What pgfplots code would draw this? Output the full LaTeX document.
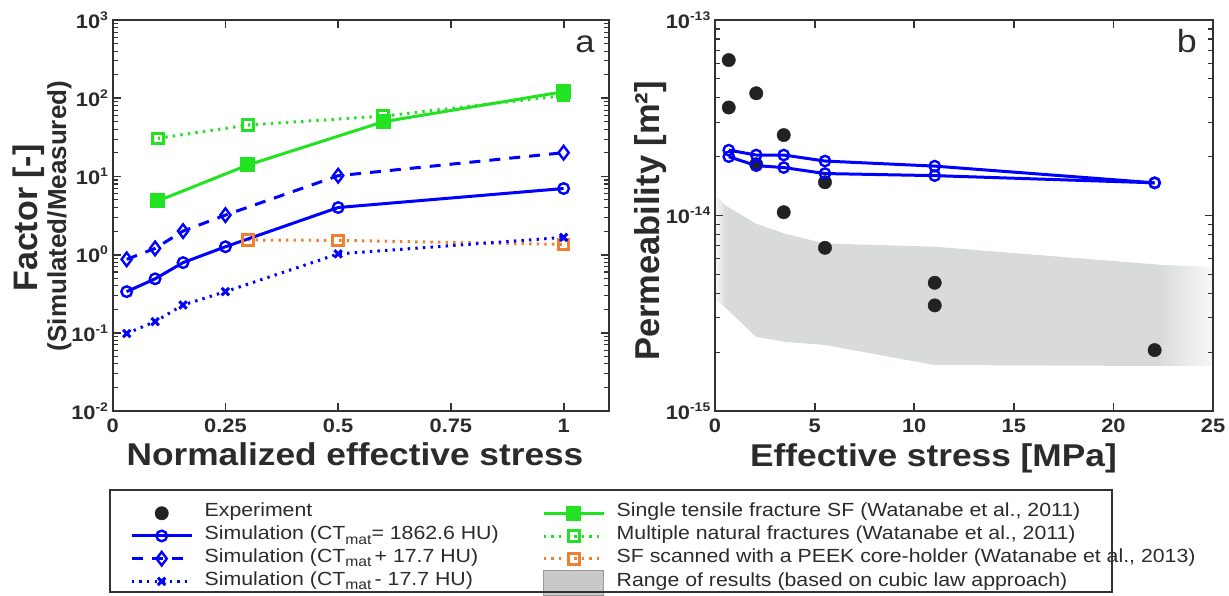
\documentclass[border=0pt]{standalone}
\usepackage{fontspec}
\setmainfont{Liberation Sans}[FakeStretch=1.12]
\newfontfamily\rotf{Liberation Sans}
\usepackage{pgfplots}
\pgfplotsset{compat=1.18}
\definecolor{axgray}{HTML}{333333}
\definecolor{txt}{HTML}{2B2B2B}
\definecolor{simblue}{HTML}{0000FF}
\definecolor{sfgreen}{HTML}{22E222}
\definecolor{peek}{HTML}{F08030}
\definecolor{expdot}{HTML}{222222}
\definecolor{band}{HTML}{D9DBDB}
\definecolor{bandlight}{HTML}{F8F8F8}
\definecolor{legbox}{HTML}{C8C8C8}
\definecolor{legedge}{HTML}{9A9A9A}

\newcommand\tickf{\fontsize{19.5}{20}\selectfont\bfseries}
\newcommand\labf{\fontsize{31.5}{34}\selectfont\bfseries}
\newcommand\legf{\fontsize{19}{21}\selectfont}
\newcommand\sub[1]{\raisebox{-4.5pt}{\fontsize{14}{14}\selectfont #1}}
\newcommand\pw[1]{10\raisebox{8pt}{\fontsize{12.5}{12.5}\selectfont #1}}

\pgfplotsset{
 panel/.style={scale only axis, height=391pt, anchor=south west,
  axis on top,
  axis line style={line width=2.4pt, axgray},
  every tick/.append style={axgray, line width=1.8pt},
  minor tick style={line width=1.1pt},
  major tick length=8pt, minor tick length=5pt,
  tick align=inside, tick pos=both,
  ticklabel style={font=\tickf, text=txt},
  xticklabel style={inner sep=0pt, anchor=north, yshift=-8pt},
  yticklabel style={inner sep=0pt, anchor=east, xshift=-4.5pt},
  legend cell align=left,
  legend style={draw=none, fill=none, inner sep=0pt, row sep=0pt,
   column sep=0pt, font=\legf, text=txt,
   nodes={inner sep=0pt, text height=15pt, text depth=7.7pt}}},
 limg/.style={legend image code/.code={
   \draw[mark repeat=2,mark phase=2,##1] plot coordinates {(0pt,0pt) (30pt,0pt) (60pt,0pt)};
   \path[draw=none, fill=none] (0pt,0pt) rectangle (73pt,0.1pt);}},
 aimg/.style={legend image code/.code={
   \draw[##1] (0pt,-12.5pt) rectangle (60pt,12.5pt);
   \path[draw=none, fill=none] (0pt,0pt) rectangle (73pt,0.1pt);}},
 dots/.style={dash pattern=on 2.4pt off 5.2pt},
 simsolid/.style={simblue, line width=3pt, mark=o, mark size=5.3pt,
  mark options={solid, line width=2.4pt, fill=white}},
 simdash/.style={simblue, line width=3pt, dash pattern=on 11pt off 9pt,
  mark=diamond, mark size=6.8pt, mark options={solid, line width=2.4pt, fill=white}},
 simdot/.style={simblue, line width=3pt, dots,
  mark=x, mark size=5.2pt, mark options={solid, line width=3pt}},
 sfsolid/.style={sfgreen, line width=3pt, mark=square*, mark size=6pt,
  mark options={solid}},
 mnfdot/.style={sfgreen, line width=3pt, dots,
  mark=square, mark size=5.3pt, mark options={solid, line width=3pt, fill=white}},
 peekdot/.style={peek, line width=3pt, dots,
  mark=square, mark size=5.3pt, mark options={solid, line width=3pt, fill=white}},
 expst/.style={only marks, mark=*, mark size=6.7pt, expdot},
 permb/.style={simblue, line width=3pt, mark=o, mark size=5.2pt,
  mark options={line width=2.4pt, fill=white}},
}

\begin{document}
\begin{tikzpicture}
\path[use as bounding box] (0,0) rectangle (1229pt,595pt);

% panel a
\begin{axis}[panel, at={(112.7pt,184pt)}, width=496pt,
 xmin=0, xmax=1.1, xtick={0,0.25,0.5,0.75,1},
 xticklabels={0,0.25,0.5,0.75,1},
 ymode=log, ymin=1e-2, ymax=1e3,
 ytick={1e-2,1e-1,1,1e1,1e2,1e3},
 yticklabels={\pw{-2},\pw{-1},\pw{0},\pw{1},\pw{2},\pw{3}},
 minor ytick={0.02,0.03,0.04,0.05,0.06,0.07,0.08,0.09,
  0.2,0.3,0.4,0.5,0.6,0.7,0.8,0.9,2,3,4,5,6,7,8,9,
  20,30,40,50,60,70,80,90,200,300,400,500,600,700,800,900},
 legend style={at={(0.0349,-0.232)}, anchor=north west}]
\addlegendimage{expst, limg}\addlegendentry{Experiment}
\addlegendimage{simsolid, limg}\addlegendentry{Simulation (CT\sub{mat}= 1862.6 HU)}
\addlegendimage{simdash, limg}\addlegendentry{Simulation (CT\sub{mat}\,+ 17.7 HU)}
\addlegendimage{simdot, limg}\addlegendentry{Simulation (CT\sub{mat}\,- 17.7 HU)}

\addplot[peekdot, forget plot] coordinates {(0.3,1.54) (0.5,1.52) (1,1.35)};
\addplot[simdot, forget plot] coordinates {(0.031,0.098) (0.094,0.139) (0.156,0.227) (0.25,0.336) (0.5,1.02) (1,1.66)};
\addplot[simdash, forget plot] coordinates {(0.031,0.87) (0.094,1.2) (0.156,2.0) (0.25,3.2) (0.5,10.2) (1,20.1)};
\addplot[simsolid, forget plot] coordinates {(0.031,0.336) (0.094,0.49) (0.156,0.79) (0.25,1.26) (0.5,4.0) (1,7.0)};
\addplot[mnfdot, forget plot] coordinates {(0.1,30.7) (0.3,45.4) (0.6,59) (1,108)};
\addplot[sfsolid, forget plot] coordinates {(0.1,4.85) (0.3,14) (0.6,50) (1,121)};
\end{axis}

% panel b
\begin{axis}[panel, at={(715pt,184pt)}, width=498pt,
 xmin=0, xmax=25, xtick={0,5,10,15,20,25},
 xticklabels={0,5,10,15,20,25},
 ymode=log, ymin=1e-15, ymax=1e-13,
 ytick={1e-15,1e-14,1e-13},
 yticklabels={\pw{-15},\pw{-14},\pw{-13}},
 minor ytick={2e-15,3e-15,4e-15,5e-15,6e-15,7e-15,8e-15,9e-15,
  2e-14,3e-14,4e-14,5e-14,6e-14,7e-14,8e-14,9e-14},
 legend style={at={(-0.3474,-0.232)}, anchor=north west}]
\addlegendimage{sfsolid, limg}\addlegendentry{Single tensile fracture SF (Watanabe et al., 2011)}
\addlegendimage{mnfdot, limg}\addlegendentry{Multiple natural fractures (Watanabe et al., 2011)}
\addlegendimage{peekdot, limg}\addlegendentry{SF scanned with a PEEK core-holder (Watanabe et al., 2013)}
\addlegendimage{fill=legbox, draw=legedge, line width=1pt, aimg}\addlegendentry{Range of results (based on cubic law approach)}

% range band (left fade, body, right fade)
\addplot[draw=none, left color=bandlight, right color=band, forget plot]
 coordinates {(0,1.28e-14) (0.55,1.12e-14) (0.55,3.35e-15) (0,3.75e-15)};
\addplot[draw=none, fill=band, forget plot]
 coordinates {(0.5,1.13e-14) (2.05,9.1e-15) (3.47,8.1e-15) (5.5,7.2e-15) (11,6.93e-15) (22.35,5.6e-15)
  (22.35,1.70e-15) (11,1.72e-15) (5.5,2.18e-15) (3.47,2.26e-15) (2.05,2.40e-15) (0.5,3.4e-15)};
\addplot[draw=none, left color=band, right color=bandlight, forget plot]
 coordinates {(22.3,5.6e-15) (25,5.45e-15) (25,1.70e-15) (22.3,1.70e-15)};

\addplot[expst, forget plot] coordinates {
 (0.69,6.24e-14) (0.69,3.57e-14) (2.07,4.22e-14) (2.07,1.83e-14)
 (3.45,2.58e-14) (3.45,1.04e-14) (5.52,1.48e-14) (5.52,6.84e-15)
 (11.03,4.53e-15) (11.03,3.47e-15) (22.07,2.05e-15)};
\addplot[permb, forget plot]
 coordinates {(0.69,2.16e-14) (2.07,2.04e-14) (3.45,2.04e-14) (5.52,1.90e-14) (11.03,1.79e-14) (22.07,1.47e-14)};
\addplot[permb, forget plot]
 coordinates {(0.69,2.0e-14) (2.07,1.80e-14) (3.45,1.76e-14) (5.52,1.64e-14) (11.03,1.60e-14) (22.07,1.47e-14)};
\end{axis}

% labels
\node[rotate=90, anchor=base, inner sep=0pt, text=txt, font=\rotf\fontsize{34}{36}\selectfont\bfseries] at (38pt,377pt) {Factor [-]};
\node[rotate=90, anchor=base, inner sep=0pt, text=txt, font=\rotf\fontsize{26}{28}\selectfont\bfseries] at (66pt,379pt) {(Simulated/Measured)};
\node[rotate=90, anchor=base, inner sep=0pt, text=txt, font=\rotf\fontsize{34.5}{36}\selectfont\bfseries] at (659pt,374pt) {Permeability [m²]};
\node[anchor=base, inner sep=0pt, text=txt, font=\labf] at (355pt,130pt) {Normalized effective stress};
\node[anchor=base, inner sep=0pt, text=txt, font=\labf] at (933.5pt,128.3pt) {Effective stress [MPa]};
\node[anchor=base east, inner sep=0pt, text=txt, font=\fontsize{31}{33}\selectfont] at (595pt,542pt) {a};
\node[anchor=base east, inner sep=0pt, text=txt, font=\fontsize{32}{34}\selectfont] at (1197pt,542pt) {b};

% legend frame
\draw[line width=2pt, axgray] (110pt,3pt) rectangle (1112pt,105pt);
\end{tikzpicture}
\end{document}
